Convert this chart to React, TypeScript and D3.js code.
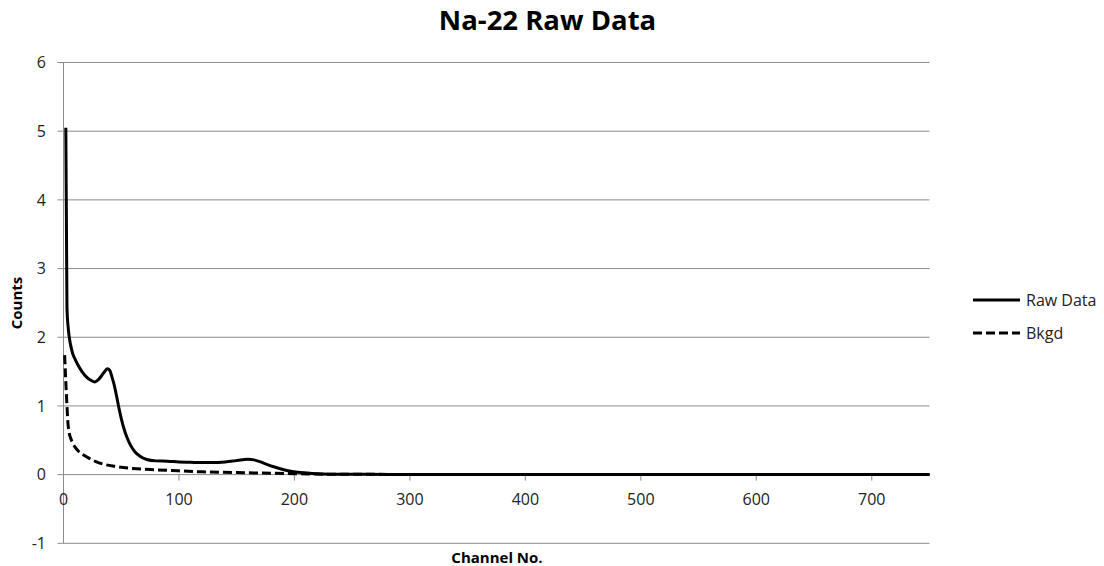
import React from "react";
import * as d3 from "d3";

const TITLE = "Na-22 Raw Data";
const X_LABEL = "Channel No.";
const Y_LABEL = "Counts";
const SERIES_NAMES = ["Raw Data", "Bkgd"];

const X_TICKS = [0, 100, 200, 300, 400, 500, 600, 700];
const Y_TICKS = [-1, 0, 1, 2, 3, 4, 5, 6];

const RAW_CH = [2, 3, 4, 5, 6, 8, 10, 13, 16, 20, 24, 27, 30, 33, 36, 38, 40, 42, 44, 46, 48, 50, 52, 55, 58, 62, 66, 72, 80, 90, 100, 110, 120, 130, 140, 148, 155, 160, 165, 170, 176, 182, 190, 198, 205, 215, 225, 240, 260, 300, 400, 500, 600, 700, 750];
const RAW_VAL = [5.05, 2.42, 2.15, 2.0, 1.9, 1.76, 1.68, 1.58, 1.5, 1.42, 1.37, 1.35, 1.38, 1.44, 1.51, 1.54, 1.52, 1.42, 1.3, 1.14, 0.97, 0.82, 0.69, 0.54, 0.43, 0.33, 0.27, 0.22, 0.2, 0.195, 0.185, 0.18, 0.175, 0.175, 0.185, 0.2, 0.215, 0.225, 0.215, 0.19, 0.15, 0.115, 0.075, 0.045, 0.03, 0.018, 0.01, 0.006, 0.004, 0.003, 0.002, 0.002, 0.002, 0.002, 0.002];

const BKGD_CH = [1, 2, 3, 4, 5, 6, 8, 10, 13, 17, 22, 28, 35, 45, 60, 80, 100, 120, 150, 180, 200, 230, 300, 750];
const BKGD_VAL = [1.74, 1.35, 1.0, 0.72, 0.6, 0.54, 0.46, 0.4, 0.34, 0.29, 0.24, 0.19, 0.15, 0.12, 0.09, 0.07, 0.055, 0.04, 0.03, 0.02, 0.013, 0.006, 0.003, 0.002];

const FONT = "'Open Sans', sans-serif";

export default function App() {
  const W = 1104, H = 566;
  const x = d3.scaleLinear().domain([0, 750]).range([63.5, 929.5]);
  const y = d3.scaleLinear().domain([-1, 6]).range([543.3, 62.5]);
  const line = d3
    .line<[number, number]>()
    .x((d) => x(d[0]))
    .y((d) => y(d[1]))
    .curve(d3.curveMonotoneX);
  const raw = RAW_CH.map((c, i) => [c, RAW_VAL[i]] as [number, number]);
  const bkgd = BKGD_CH.map((c, i) => [c, BKGD_VAL[i]] as [number, number]);
  const grid = "#8c8c8c";
  const y0 = y(0);

  return (
    <svg width={W} height={H} style={{ position: "absolute", left: 0, top: 0, background: "#fff" }} fontFamily={FONT}>
      <text x={547.5} y={30} textAnchor="middle" fontSize={27.5} fontWeight="bold" fill="#000">{TITLE}</text>
      {Y_TICKS.map((t) => (
        <g key={"y" + t}>
          <line x1={x(0) - 6} x2={x(750)} y1={y(t)} y2={y(t)} stroke={grid} strokeWidth={1} />
          <text x={46} y={y(t)} dy="0.36em" textAnchor="end" fontSize={16} fill="#222">{t}</text>
        </g>
      ))}
      <line x1={x(0)} x2={x(0)} y1={y(6)} y2={y(-1)} stroke={grid} strokeWidth={1} />
      {X_TICKS.map((t) => (
        <g key={"x" + t}>
          <line x1={x(t)} x2={x(t)} y1={y0} y2={y0 + 6} stroke={grid} strokeWidth={1} />
          <text x={x(t)} y={505} textAnchor="middle" fontSize={16} fill="#222">{t}</text>
        </g>
      ))}
      <path d={line(bkgd) || ""} fill="none" stroke="#000" strokeWidth={3} strokeDasharray="9,4" />
      <path d={line(raw) || ""} fill="none" stroke="#000" strokeWidth={3} />
      <text transform={`translate(22,303) rotate(-90)`} textAnchor="middle" fontSize={15} fontWeight="bold" fill="#000">{Y_LABEL}</text>
      <text x={497} y={563} textAnchor="middle" fontSize={15} fontWeight="bold" fill="#000">{X_LABEL}</text>
      <line x1={973} x2={1020} y1={300} y2={300} stroke="#000" strokeWidth={3} />
      <text x={1026} y={300} dy="0.36em" fontSize={16} fill="#222">{SERIES_NAMES[0]}</text>
      <line x1={973} x2={1020} y1={333} y2={333} stroke="#000" strokeWidth={3} strokeDasharray="9,4" />
      <text x={1026} y={333} dy="0.36em" fontSize={16} fill="#222">{SERIES_NAMES[1]}</text>
    </svg>
  );
}
